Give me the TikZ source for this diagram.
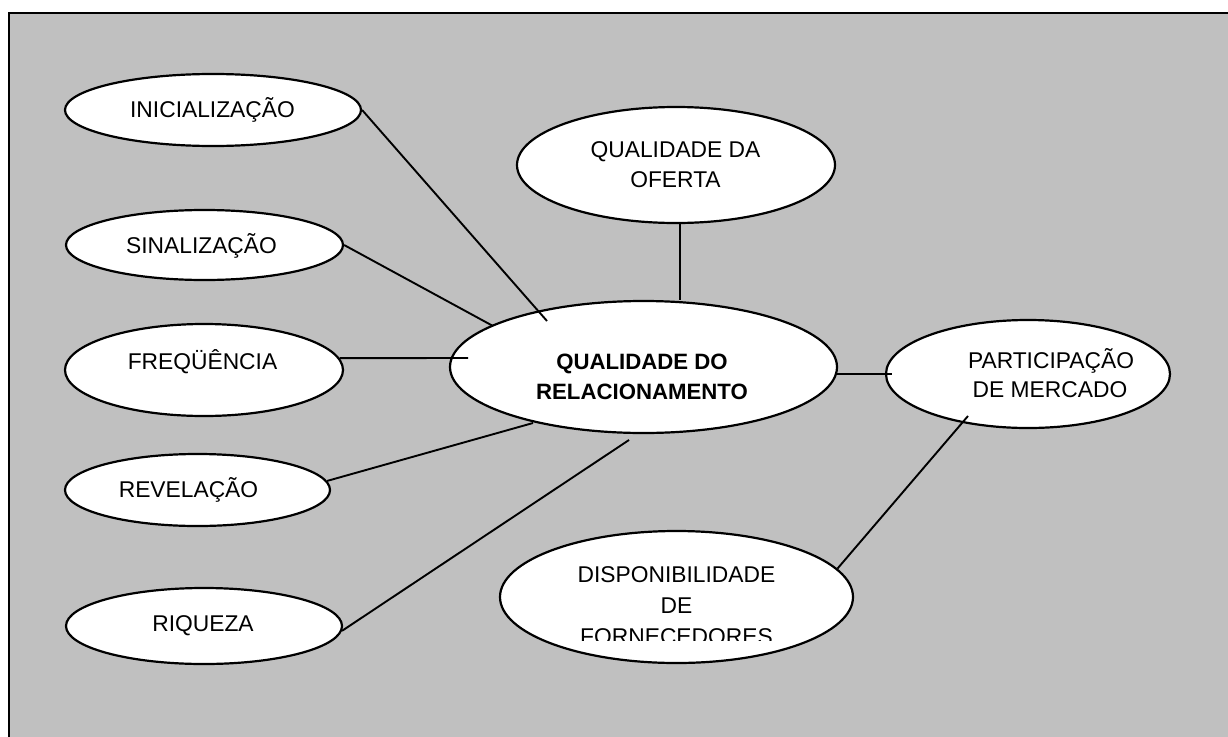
\documentclass[tikz,border=0pt]{standalone}
\usepackage{fontspec}
\setmainfont{Liberation Sans}
\usetikzlibrary{shapes.geometric}
\definecolor{panelgray}{RGB}{192,192,192}
\begin{document}
\begin{tikzpicture}[x=1pt,y=-1pt,
  bubble/.style={ellipse, draw=black, line width=2.2pt, fill=white, inner sep=0pt},
  caption/.style={anchor=base, inner sep=0pt, font=\fontsize{22.8}{30}\selectfont},
  boldcaption/.style={caption, font=\fontsize{22.2}{30}\selectfont\bfseries},
  link/.style={draw=black, line width=1.9pt}]
\useasboundingbox (0,0) rectangle (1228,736);
\fill[white] (0,0) rectangle (1228,736);
% grey panel, running off the right and bottom edges
\draw[line width=2pt, fill=panelgray] (8.5,12.5) rectangle (1240,750);

% bubbles
\node[bubble, minimum width=296pt, minimum height=72pt]  (ini) at (213,110) {};
\node[bubble, minimum width=277pt, minimum height=70pt]  (sin) at (204.5,245) {};
\node[bubble, minimum width=278pt, minimum height=92pt]  (fre) at (204,370) {};
\node[bubble, minimum width=265pt, minimum height=72pt]  (rev) at (197.5,490) {};
\node[bubble, minimum width=276pt, minimum height=76pt]  (riq) at (204,626) {};
\node[bubble, minimum width=318pt, minimum height=116pt] (ofe) at (676,165) {};
\node[bubble, minimum width=387pt, minimum height=132pt] (rel) at (643.5,367) {};
\node[bubble, minimum width=284pt, minimum height=108pt] (par) at (1028,374) {};
\node[bubble, minimum width=353pt, minimum height=132pt] (dis) at (676.5,597) {};

% free ends of the connectors
\coordinate (ini-end) at (547,321);
\coordinate (sin-end) at (493,326);
\coordinate (fre-end) at (468,358);
\coordinate (rev-end) at (533,423);
\coordinate (riq-end) at (629,440);
\coordinate (dis-end) at (968,416);

% connectors
\draw[link] (ini.east) -- (ini-end);
\draw[link] (sin.east) -- (sin-end);
\draw[link] (fre.5) -- (fre-end);
\draw[link] (rev.4) -- (rev-end);
\draw[link] (riq.-2) -- (riq-end);
\draw[link] ([xshift=4pt]ofe.south) -- ([xshift=4pt]ofe.south |- rel.north);
\draw[link] (rel.-2.7) -- ([xshift=7pt]rel.-2.7 -| par.west);
\draw[link] (dis.10.4) -- (dis-end);

% labels
\node[caption] (ini-t) at (212.5,117) {INICIALIZAÇÃO};
\node[caption] (sin-t) at (201.5,253) {SINALIZAÇÃO};
\node[caption] (fre-t) at (202.5,369) {FREQÜÊNCIA};
\node[caption] (rev-t) at (188.5,497) {REVELAÇÃO};
\node[caption] (riq-t) at (203,631) {RIQUEZA};
\node[caption] (ofe-t1) at (675.5,157) {QUALIDADE DA};
\node[caption] (ofe-t2) at (675.5,187) {OFERTA};
\node[boldcaption] (rel-t1) at (642,369) {QUALIDADE DO};
\node[boldcaption] (rel-t2) at (642,399) {RELACIONAMENTO};
\node[caption] (par-t1) at (1051,368) {PARTICIPAÇÃO};
\node[caption] (par-t2) at (1050,397) {DE MERCADO};
\node[caption] (dis-t1) at (676.5,582) {DISPONIBILIDADE};
\node[caption] (dis-t2) at (676.5,613) {DE};
\begin{scope}
  \clip (0,0) rectangle (1228,640);
  \node[caption] (dis-t3) at (676.5,644) {FORNECEDORES};
\end{scope}
\end{tikzpicture}
\end{document}
